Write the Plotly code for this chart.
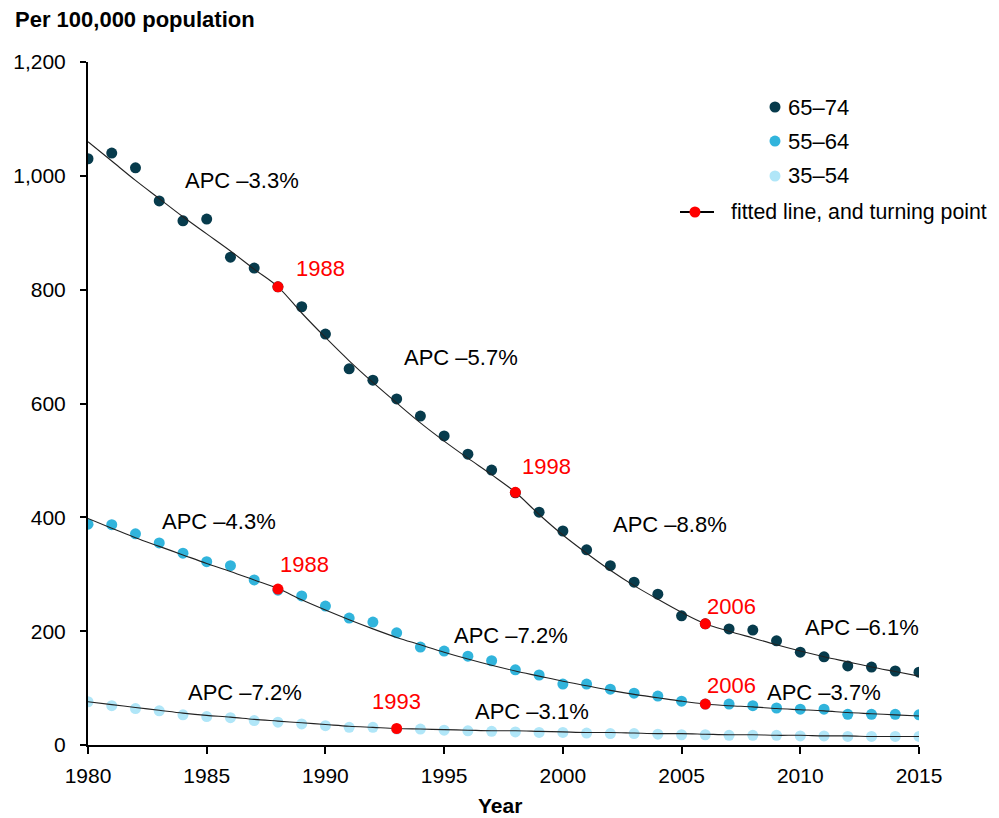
import plotly.graph_objects as go

years = list(range(1980, 2016))

age_65_74 = [1030, 1040, 1014, 956, 921, 924, 857, 838, 805, 770,
             722, 661, 641, 608, 578, 543, 511, 483, 443, 409,
             376, 343, 315, 286, 265, 227, 213, 204, 202, 183,
             163, 155, 139, 137, 130, 128]
age_55_64 = [388, 387, 371, 355, 337, 322, 315, 290, 272, 262,
             244, 223, 216, 197, 172, 165, 156, 148, 132, 123,
             107, 107, 98, 91, 86, 77, 72, 72, 69, 65,
             63, 63, 54, 54, 54, 53]
age_35_54 = [76, 69, 64, 60, 53, 50, 48, 43, 40, 37,
             34, 31, 31, 28, 28, 26, 25, 24, 23, 22,
             22, 21, 20, 20, 19, 18, 18, 17, 17, 17,
             16, 16, 15, 15, 15, 15]

fit_65_74 = [1060, 1026, 992, 960, 928, 898, 868, 836, 805, 759,
             716, 675, 637, 601, 566, 534, 504, 475, 444, 405,
             369, 337, 307, 280, 256, 233, 213, 200, 188, 176,
             165, 155, 146, 137, 129, 121]
fit_55_64 = [398, 381, 364, 349, 334, 319, 305, 290, 275, 255,
             237, 220, 204, 189, 176, 163, 151, 140, 130, 121,
             112, 104, 96, 89, 83, 77, 72, 69, 67, 64,
             62, 60, 57, 55, 53, 51]
fit_35_54 = [76, 71, 66, 61, 56, 52, 49, 45, 42, 39,
             36, 33, 31, 29, 28, 27, 26, 25, 25, 24,
             23, 22, 22, 21, 20, 20, 19, 18, 18, 17,
             17, 16, 16, 15, 15, 15]

turn_years_65_74 = [1988, 1998, 2006]
turn_vals_65_74 = [805, 444, 213]
turn_years_55_64 = [1988, 2006]
turn_vals_55_64 = [274, 72]
turn_years_35_54 = [1993]
turn_vals_35_54 = [29]

series_names = ["65–74", "55–64", "35–54"]
series_colors = ["#073b4c", "#31b4dc", "#b0e6f8"]

# APC labels: (text, x, y)
apc_labels = [
    ("APC –3.3%", 1986.5, 991), ("APC –5.7%", 1995.7, 680),
    ("APC –8.8%", 2004.5, 387), ("APC –6.1%", 2012.6, 206),
    ("APC –4.3%", 1985.5, 392), ("APC –7.2%", 1997.8, 192),
    ("APC –3.7%", 2011.0, 93), ("APC –7.2%", 1986.6, 93),
    ("APC –3.1%", 1998.7, 58),
]
turn_labels = [
    ("1988", 1989.8, 838), ("1998", 1999.3, 490), ("2006", 2007.1, 244),
    ("1988", 1989.1, 318), ("2006", 2007.1, 104), ("1993", 1993.0, 76),
]

FONT = "Liberation Sans, Arial, sans-serif"
RED = "#ff0000"

fig = go.Figure()

data_sets = [
    (age_65_74, fit_65_74, turn_years_65_74, turn_vals_65_74),
    (age_55_64, fit_55_64, turn_years_55_64, turn_vals_55_64),
    (age_35_54, fit_35_54, turn_years_35_54, turn_vals_35_54),
]
for (obs, fit, ty, tv), name, col in zip(data_sets, series_names, series_colors):
    fig.add_trace(go.Scatter(x=years, y=obs, mode="markers", name=name,
                             marker=dict(size=11, color=col), showlegend=False))
for (obs, fit, ty, tv), name, col in zip(data_sets, series_names, series_colors):
    fig.add_trace(go.Scatter(x=years, y=fit, mode="lines", line_shape="spline",
                             line=dict(color="#222222", width=1.1), showlegend=False,
                             hoverinfo="skip"))
for (obs, fit, ty, tv), name, col in zip(data_sets, series_names, series_colors):
    fig.add_trace(go.Scatter(x=ty, y=tv, mode="markers",
                             marker=dict(size=11, color=RED), showlegend=False))

annotations = []
for t, x, y in apc_labels:
    annotations.append(dict(x=x, y=y, xref="x", yref="y", text=t, showarrow=False,
                            font=dict(size=22, color="#000000", family=FONT)))
for t, x, y in turn_labels:
    annotations.append(dict(x=x, y=y, xref="x", yref="y", text=t, showarrow=False,
                            font=dict(size=22, color=RED, family=FONT)))

# axis titles
annotations.append(dict(x=-0.0903, y=1.0615, xref="paper", yref="paper",
                        text="<b>Per 100,000 population</b>", showarrow=False,
                        xanchor="left", yanchor="middle",
                        font=dict(size=22, color="#000000", family=FONT)))
annotations.append(dict(x=0.496, y=-0.088, xref="paper", yref="paper",
                        text="<b>Year</b>", showarrow=False,
                        xanchor="center", yanchor="middle",
                        font=dict(size=21, color="#000000", family=FONT)))

# custom legend
shapes = []
leg_y = [0.9341, 0.8843, 0.8331]
for name, col, yy in zip(series_names, series_colors, leg_y):
    shapes.append(dict(type="circle", xref="paper", yref="paper",
                       xsizemode="pixel", ysizemode="pixel",
                       xanchor=0.8267, yanchor=yy, x0=-5.5, x1=5.5, y0=-5.5, y1=5.5,
                       fillcolor=col, line=dict(width=0)))
    annotations.append(dict(x=0.8400, y=yy, xref="paper", yref="paper", text=name,
                            showarrow=False, xanchor="left", yanchor="middle",
                            font=dict(size=22, color="#000000", family=FONT)))
shapes.append(dict(type="line", xref="paper", yref="paper", x0=0.7124, x1=0.7533,
                   y0=0.7804, y1=0.7804, line=dict(color="#000000", width=2)))
shapes.append(dict(type="circle", xref="paper", yref="paper",
                   xsizemode="pixel", ysizemode="pixel",
                   xanchor=0.7304, yanchor=0.7804, x0=-5.5, x1=5.5, y0=-5.5, y1=5.5,
                   fillcolor=RED, line=dict(width=0)))
annotations.append(dict(x=0.7715, y=0.7804, xref="paper", yref="paper",
                        text="fitted line, and turning point", showarrow=False,
                        xanchor="left", yanchor="middle",
                        font=dict(size=21.3, color="#000000", family=FONT)))

fig.update_layout(
    width=991, height=810,
    margin=dict(l=80, r=80, t=54, b=73),
    paper_bgcolor="white", plot_bgcolor="white",
    font=dict(family=FONT, size=21, color="#000000"),
    annotations=annotations, shapes=shapes,
    showlegend=False,
)
fig.update_xaxes(range=[1980, 2015], tickvals=[1980, 1985, 1990, 1995, 2000, 2005, 2010, 2015],
                 showgrid=False, zeroline=False, showline=True, linecolor="#000000",
                 linewidth=2, ticks="outside", ticklen=7, tickwidth=2, tickcolor="#000000",
                 ticklabelstandoff=4, tickfont=dict(size=21, family=FONT), automargin=False)
fig.update_yaxes(range=[0, 1200], tickvals=[0, 200, 400, 600, 800, 1000, 1200],
                 tickformat=",d", showgrid=False, zeroline=False, showline=True,
                 linecolor="#000000", linewidth=2, ticks="outside", ticklen=6,
                 tickwidth=2, tickcolor="#000000", ticklabelstandoff=10,
                 tickfont=dict(size=21, family=FONT), automargin=False)

fig.write_html("out.html")
